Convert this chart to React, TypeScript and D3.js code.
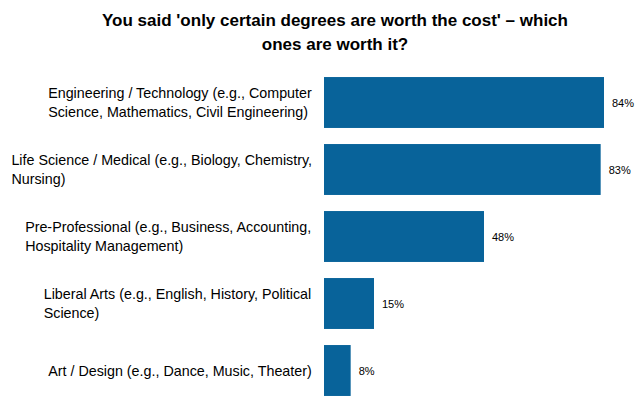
import * as d3 from "d3";

const categories: string[][] = [
  ["Engineering / Technology (e.g., Computer", "Science, Mathematics, Civil Engineering)"],
  ["Life Science / Medical (e.g., Biology, Chemistry,", "Nursing)"],
  ["Pre-Professional (e.g., Business, Accounting,", "Hospitality Management)"],
  ["Liberal Arts (e.g., English, History, Political", "Science)"],
  ["Art / Design (e.g., Dance, Music, Theater)"],
];
const values = [84, 83, 48, 15, 8];
const title = ["You said 'only certain degrees are worth the cost' \u2013 which", "ones are worth it?"];

const FONT = "Helvetica, Arial, 'Liberation Sans', sans-serif";
const LABEL_SIZE = 14.3;
const ctx = document.createElement("canvas").getContext("2d")!;
ctx.font = `${LABEL_SIZE}px Helvetica, Arial, 'Liberation Sans', sans-serif`;

export default function App() {
  const width = 640;
  const height = 420;
  const x = d3.scaleLinear().domain([0, 84]).range([324, 604]);
  const y = d3
    .scaleBand<number>()
    .domain(d3.range(categories.length))
    .range([69, 404])
    .paddingInner(0.24)
    .paddingOuter(0.12);

  return (
    <svg width={width} height={height} style={{ position: "absolute", left: 0, top: 0, background: "#fff" }} fontFamily={FONT}>
      {title.map((t, i) => (
        <text key={i} x={335} y={26 + i * 24} textAnchor="middle" fontSize={17} fontWeight="bold">
          {t}
        </text>
      ))}
      {categories.map((lines, i) => {
        const w = d3.max(lines, (l) => ctx.measureText(l).width) as number;
        const cy = (y(i) as number) + y.bandwidth() / 2;
        const lh = 19;
        const y0 = cy - ((lines.length - 1) * lh) / 2 + 5;
        return (
          <g key={i}>
            {lines.map((l, j) => (
              <text key={j} x={312 - w} y={y0 + j * lh} fontSize={LABEL_SIZE} fill="#000">
                {l}
              </text>
            ))}
            <rect x={x(0)} y={y(i)} width={x(values[i]) - x(0)} height={y.bandwidth()} fill="#08639a" />
            <text x={x(values[i]) + 8} y={cy + 4} fontSize={11} fill="#000">
              {values[i]}%
            </text>
          </g>
        );
      })}
    </svg>
  );
}
